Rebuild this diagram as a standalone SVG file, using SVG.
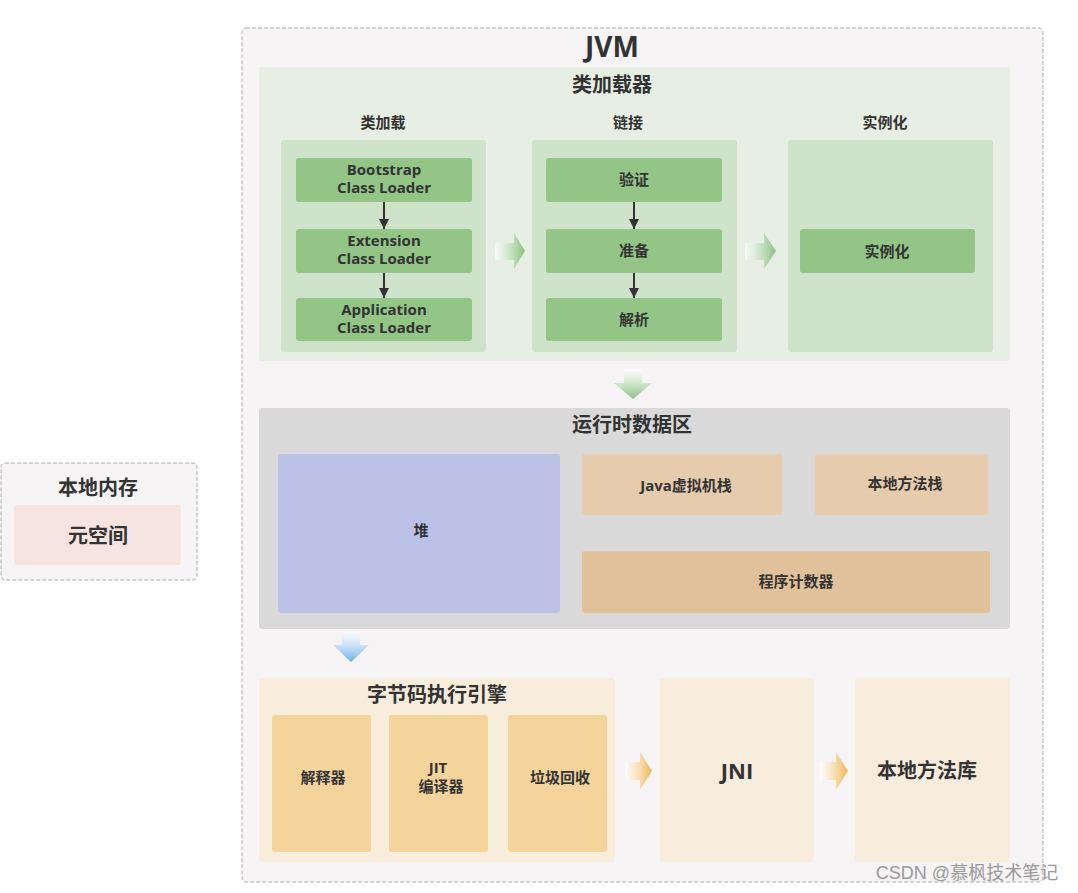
<svg xmlns="http://www.w3.org/2000/svg" width="1078" height="893" viewBox="0 0 1078 893">
<style>
.t{font-family:"Open Sans","Noto Sans CJK SC",sans-serif;font-weight:bold;fill:#333;text-anchor:middle;dominant-baseline:central}
.big{font-size:28px}
.h1{font-size:20px}
.h2{font-size:15px}
.n{font-size:15px}
.s{font-size:15px}
.gn{fill:#93c587}
.gp{fill:#cfe3ca}
.bx{fill:#f5d49c}
</style>
<defs>
<linearGradient id="gR" x1="0" y1="0" x2="1" y2="0"><stop offset="0" stop-color="#ffffff" stop-opacity="0.6"/><stop offset="1" stop-color="#86c07e"/></linearGradient>
<linearGradient id="gD" x1="0" y1="0" x2="0" y2="1"><stop offset="0" stop-color="#ffffff" stop-opacity="0.6"/><stop offset="1" stop-color="#86c07e"/></linearGradient>
<linearGradient id="bD" x1="0" y1="0" x2="0" y2="1"><stop offset="0" stop-color="#ffffff" stop-opacity="0.6"/><stop offset="1" stop-color="#6aaeea"/></linearGradient>
<linearGradient id="oR" x1="0" y1="0" x2="1" y2="0"><stop offset="0" stop-color="#ffffff" stop-opacity="0.6"/><stop offset="1" stop-color="#f2b650"/></linearGradient>
<marker id="ah" viewBox="0 0 10 10" refX="10" refY="5" markerWidth="5" markerHeight="5" orient="auto"><path d="M0,0L10,5L0,10z" fill="#333"/></marker>
</defs>
<rect width="1078" height="893" fill="#ffffff"/>

<g id="local-memory">
<rect x="1" y="463" width="196" height="117" rx="4" fill="#f6f4f5" stroke="#aaa" stroke-dasharray="4,2"/>
<text class="t h1" x="98" y="487">本地内存</text>
<rect x="14" y="505" width="167" height="60" rx="3" fill="#f6e4e1"/>
<text class="t h1" x="98" y="535">元空间</text>
</g>

<g id="jvm">
<rect x="242" y="28" width="801" height="854" rx="4" fill="#f6f4f5" stroke="#aaa" stroke-dasharray="4,2"/>
<text class="t big" x="612" y="46">JVM</text>
</g>

<g id="class-loader">
<rect x="259" y="67" width="751" height="294" rx="3" fill="#e7efe4"/>
<text class="t h1" x="612" y="84">类加载器</text>
<text class="t h2" x="383" y="122">类加载</text>
<text class="t h2" x="628" y="122">链接</text>
<text class="t h2" x="885" y="122">实例化</text>
<rect class="gp" x="281" y="140" width="205" height="212" rx="3"/>
<rect class="gp" x="532" y="140" width="205" height="212" rx="3"/>
<rect class="gp" x="788" y="140" width="205" height="212" rx="3"/>
</g>

<g id="bootstrap"><rect class="gn" x="296" y="158" width="176" height="44" rx="3"/><text class="t n" x="384" y="169">Bootstrap</text><text class="t n" x="384" y="187">Class Loader</text></g>
<g id="extension"><rect class="gn" x="296" y="229" width="176" height="44" rx="3"/><text class="t n" x="384" y="240">Extension</text><text class="t n" x="384" y="258">Class Loader</text></g>
<g id="application"><rect class="gn" x="296" y="298" width="176" height="43" rx="3"/><text class="t n" x="384" y="309">Application</text><text class="t n" x="384" y="327">Class Loader</text></g>
<g id="verify"><rect class="gn" x="546" y="158" width="176" height="44" rx="3"/><text class="t s" x="634" y="179">验证</text></g>
<g id="prepare"><rect class="gn" x="546" y="229" width="176" height="44" rx="3"/><text class="t s" x="634" y="250">准备</text></g>
<g id="resolve"><rect class="gn" x="546" y="298" width="176" height="43" rx="3"/><text class="t s" x="634" y="319">解析</text></g>
<g id="instantiate"><rect class="gn" x="800" y="229" width="175" height="44" rx="3"/><text class="t s" x="887" y="251">实例化</text></g>

<g id="runtime-data-area">
<rect x="259" y="408" width="751" height="221" rx="3" fill="#d9d9d9"/>
<text class="t h1" x="632" y="424">运行时数据区</text>
</g>
<g id="heap"><rect x="278" y="454" width="282" height="159" rx="3" fill="#bcc1e7"/><text class="t s" x="421" y="530">堆</text></g>
<g id="java-stack"><rect x="582" y="454" width="200" height="61" rx="3" fill="#e6cbad"/><text class="t s" x="686" y="485">Java虚拟机栈</text></g>
<g id="native-stack"><rect x="815" y="454" width="173" height="61" rx="3" fill="#e6cbad"/><text class="t s" x="905" y="483">本地方法栈</text></g>
<g id="pc"><rect x="582" y="551" width="408" height="62" rx="3" fill="#e1c19a"/><text class="t s" x="796" y="581">程序计数器</text></g>

<g id="execution-engine">
<rect x="259" y="678" width="356" height="184" rx="3" fill="#f8ecda"/>
<text class="t h1" x="437" y="694">字节码执行引擎</text>
</g>
<g id="interpreter"><rect class="bx" x="272" y="715" width="99" height="137" rx="3"/><text class="t s" x="323" y="777">解释器</text></g>
<g id="jit"><rect class="bx" x="389" y="715" width="99" height="137" rx="3"/><text class="t s" x="438" y="767">JIT</text><text class="t s" x="441" y="786">编译器</text></g>
<g id="gc"><rect class="bx" x="508" y="715" width="99" height="137" rx="3"/><text class="t s" x="560" y="777">垃圾回收</text></g>
<g id="jni"><rect x="660" y="678" width="154" height="184" rx="3" fill="#f8eddc"/><text class="t" style="font-size:22px" x="737" y="770">JNI</text></g>
<g id="native-lib"><rect x="855" y="678" width="155" height="184" rx="3" fill="#f8eddc"/><text class="t h1" x="927" y="770">本地方法库</text></g>

<g id="connectors">
<line x1="384" y1="202" x2="384" y2="229" stroke="#333" stroke-width="2" marker-end="url(#ah)"/>
<line x1="384" y1="273" x2="384" y2="298" stroke="#333" stroke-width="2" marker-end="url(#ah)"/>
<line x1="634" y1="202" x2="634" y2="229" stroke="#333" stroke-width="2" marker-end="url(#ah)"/>
<line x1="634" y1="273" x2="634" y2="298" stroke="#333" stroke-width="2" marker-end="url(#ah)"/>
<path d="M495,243H514V233L525,251L514,269V260H495Z" fill="url(#gR)"/>
<path d="M745,243H764V233L776,251L764,269V260H745Z" fill="url(#gR)"/>
<path d="M624,369V383H614L633,399L652,383H642V369Z" fill="url(#gD)"/>
<path d="M342,632V645H333L351,662L369,645H360V632Z" fill="url(#bD)"/>
<path d="M625,762H640V752L652,771L640,790V780H625Z" fill="url(#oR)"/>
<path d="M820,762H836V752L848,771L836,790V780H820Z" fill="url(#oR)"/>
</g>

<text x="967" y="873" style="font-family:'Liberation Sans','Noto Sans CJK SC',sans-serif;font-size:18px;fill:#999;text-anchor:middle;dominant-baseline:central">CSDN @慕枫技术笔记</text>
</svg>
